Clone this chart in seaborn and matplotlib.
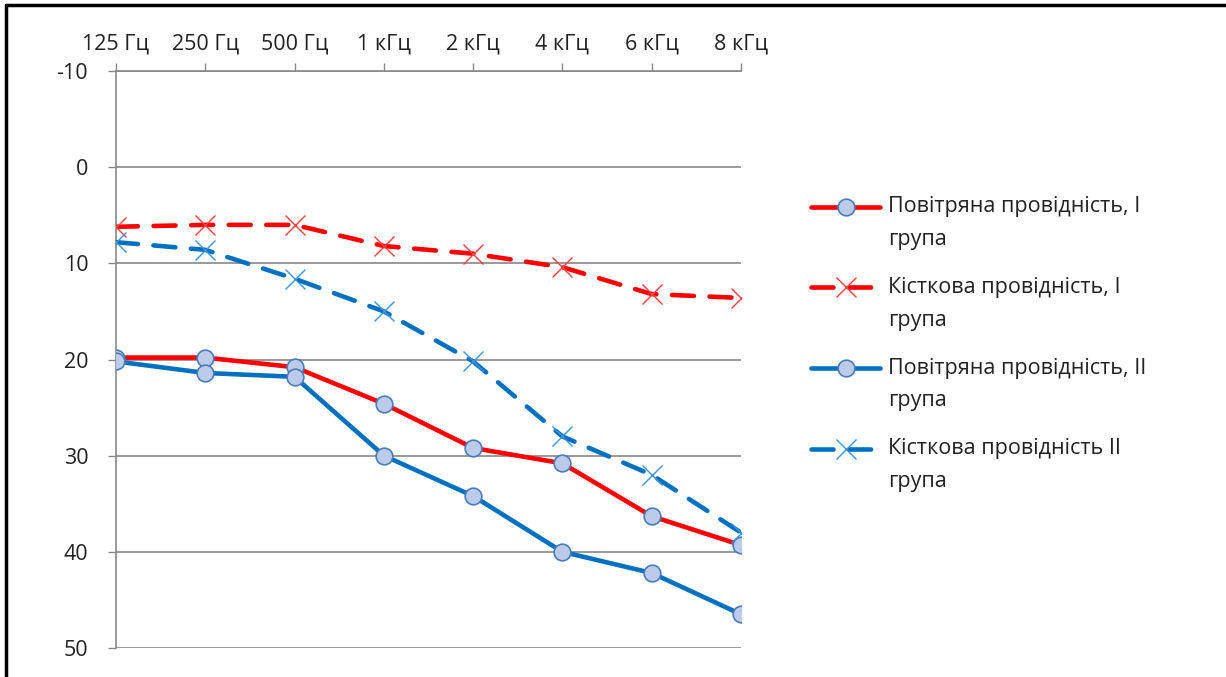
import matplotlib
matplotlib.use("Agg")
import numpy as np
import matplotlib.pyplot as plt
import matplotlib.lines as mlines
from matplotlib.legend_handler import HandlerLine2D
import seaborn as sns
import pandas as pd

freqs = ["125 Гц", "250 Гц", "500 Гц", "1 кГц", "2 кГц", "4 кГц", "6 кГц", "8 кГц"]

air_1 = [19.8, 19.8, 20.8, 24.6, 29.2, 30.8, 36.3, 39.3]
bone_1 = [6.2, 6.0, 6.0, 8.2, 9.0, 10.4, 13.2, 13.6]
air_2 = [20.2, 21.4, 21.8, 30.0, 34.2, 40.0, 42.2, 46.5]
bone_2 = [7.8, 8.6, 11.6, 15.0, 20.2, 28.0, 32.0, 38.0]

labels = [
    "Повітряна провідність, I\nгрупа",
    "Кісткова провідність, I\nгрупа",
    "Повітряна провідність, II\nгрупа",
    "Кісткова провідність II\nгрупа",
]

sns.set_theme(style="white")
plt.rcParams["font.family"] = ["Open Sans", "DejaVu Sans"]
plt.rcParams["axes.unicode_minus"] = False

fig = plt.figure(figsize=(12.26, 6.77), dpi=100)
W, H = 1226, 677
ax = fig.add_axes([116 / W, 1 - 648 / H, (741 - 116) / W, (648 - 71) / H])

RED = "#ff0000"
BLUE = "#0070c0"
dash = (0, (4.8, 3.4))
FS = 15.5

styles = [
    dict(values=air_1, color=RED, ls="-", marker="o", mfc="#bccbea", mec="#4a7ebb",
         ms=12, mew=1.2),
    dict(values=bone_1, color=RED, ls=dash, marker="x", mfc="none", mec="#ff4040",
         ms=14, mew=1.0),
    dict(values=air_2, color=BLUE, ls="-", marker="o", mfc="#bccbea", mec="#4a7ebb",
         ms=12, mew=1.2),
    dict(values=bone_2, color=BLUE, ls=dash, marker="x", mfc="none", mec="#3a95dd",
         ms=14, mew=1.0),
]

handles = []
for st, lab in zip(styles, labels):
    df = pd.DataFrame({"freq": freqs, "db": st["values"]})
    sns.lineplot(data=df, x="freq", y="db", ax=ax, sort=False, color=st["color"],
                 linewidth=3.3, linestyle=st["ls"], marker=st["marker"],
                 markerfacecolor=st["mfc"], markeredgecolor=st["mec"],
                 markersize=st["ms"], markeredgewidth=st["mew"],
                 dash_capstyle="round", solid_capstyle="round", zorder=3)
    handles.append(mlines.Line2D([], [], color=st["color"], linewidth=3.3,
                                 linestyle=st["ls"], marker=st["marker"],
                                 markerfacecolor=st["mfc"], markeredgecolor=st["mec"],
                                 markersize=st["ms"], markeredgewidth=st["mew"],
                                 dash_capstyle="round", solid_capstyle="round"))

ax.set_xlim(0, len(freqs) - 1)
ax.set_ylim(50, -10)
ax.set_yticks(range(-10, 51, 10))
ax.set_xlabel("")
ax.set_ylabel("")

ax.xaxis.tick_top()
ax.tick_params(axis="x", top=True, bottom=False, direction="out", length=6,
               width=1, color="#888888", labelsize=FS, labelcolor="#222222", pad=6)
ax.tick_params(axis="y", left=True, direction="out", length=6, width=1,
               color="#888888", labelsize=FS, labelcolor="#222222", pad=14)

ax.grid(axis="y", color="#888888", linewidth=1.2)
ax.grid(axis="x", visible=False)
for side in ["right", "bottom"]:
    ax.spines[side].set_visible(False)
for side in ["left", "top"]:
    ax.spines[side].set_color("#888888")
    ax.spines[side].set_linewidth(1.2)


class FirstLineHandler(HandlerLine2D):
    """Legend key raised to sit level with the first line of a two-line label."""

    def __init__(self, lift, **kw):
        super().__init__(**kw)
        self.lift = lift

    def create_artists(self, legend, orig_handle, xdescent, ydescent, width, height,
                       fontsize, trans):
        arts = super().create_artists(legend, orig_handle, xdescent, ydescent, width,
                                      height, fontsize, trans)
        for a in arts:
            a.set_ydata(np.asarray(a.get_ydata(), dtype=float) + self.lift * fontsize)
        return arts


leg = fig.legend(handles, labels, loc="upper left", bbox_to_anchor=(792 / W, 1 - 177 / H),
                 frameon=False, fontsize=FS, handlelength=3.2, handletextpad=0.35,
                 labelspacing=1.26,
                 handler_map={mlines.Line2D: FirstLineHandler(lift=0.78)})
for t in leg.get_texts():
    t.set_color("#222222")
    t.set_linespacing(1.72)

# outer frame
fig.add_artist(mlines.Line2D([6 / W, 6 / W], [0, 1 - 5 / H], color="black", lw=2.5,
                             transform=fig.transFigure))
fig.add_artist(mlines.Line2D([6 / W, 1], [1 - 5 / H, 1 - 5 / H], color="black", lw=2.5,
                             transform=fig.transFigure))

fig.savefig("out.png", dpi=100)
